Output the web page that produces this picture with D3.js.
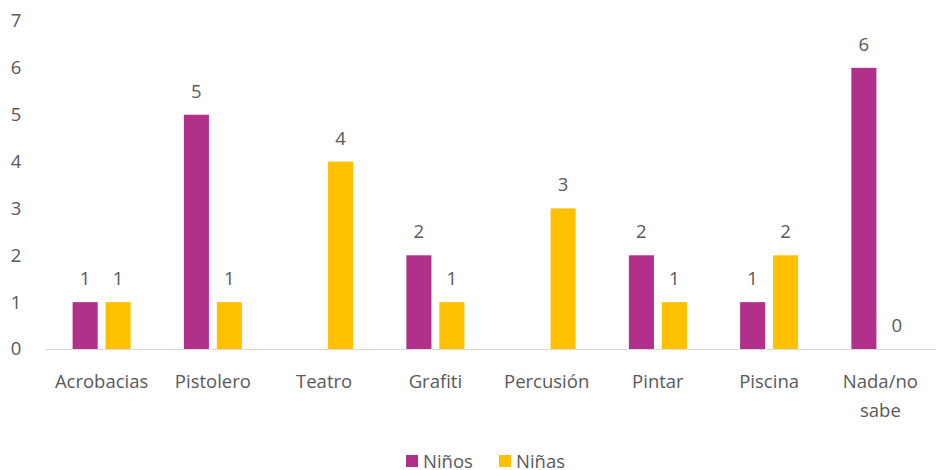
<!DOCTYPE html>
<html>
<head>
<meta charset="utf-8">
<script src="https://cdn.jsdelivr.net/npm/d3@7"></script>
<style>
  body { margin: 0; background: #fff; }
  text { font-family: "Open Sans", sans-serif; fill: #595959; }
</style>
</head>
<body>
<svg id="chart" width="936" height="470"></svg>
<script>
var categories = ["Acrobacias", "Pistolero", "Teatro", "Grafiti", "Percusión", "Pintar", "Piscina", "Nada/no sabe"];
var ninos = [1, 5, null, 2, null, 2, 1, 6];
var ninas = [1, 1, 4, 1, 3, 1, 2, 0];
var series = ["Niños", "Niñas"];
var colors = ["#B0308A", "#FFC000"];
var yTicks = [0, 1, 2, 3, 4, 5, 6, 7];

var svg = d3.select("#chart");
var plotLeft = 46, plotRight = 936, plotTop = 21, plotBottom = 349;
var fontSize = "18.5px";

var x = d3.scaleBand().domain(categories).range([plotLeft, plotRight]);
var y = d3.scaleLinear().domain([0, 7]).range([plotBottom, plotTop]);
var sub = d3.scaleBand().domain(series).range([0, 58]).paddingInner(0.24);

// y labels
svg.selectAll("text.y-label")
  .data(yTicks)
  .enter()
  .append("text")
  .attr("class", "y-label")
  .attr("x", 16)
  .attr("y", d => y(d))
  .attr("dy", "0.35em")
  .attr("text-anchor", "middle")
  .attr("font-size", fontSize)
  .text(d => d);

var rows = [];
categories.forEach((c, i) => {
  rows.push({cat: c, s: "Niños", v: ninos[i]});
  rows.push({cat: c, s: "Niñas", v: ninas[i]});
});

function barX(d) {
  return x(d.cat) + x.bandwidth() / 2 - 29 + sub(d.s);
}

svg.selectAll("rect.bar")
  .data(rows.filter(d => d.v !== null))
  .enter()
  .append("rect")
  .attr("class", "bar")
  .attr("x", d => barX(d))
  .attr("y", d => y(d.v))
  .attr("width", sub.bandwidth())
  .attr("height", d => plotBottom - y(d.v))
  .style("fill", d => colors[series.indexOf(d.s)]);

// axis line
svg.append("line")
  .attr("x1", plotLeft)
  .attr("x2", plotRight)
  .attr("y1", plotBottom + 0.5)
  .attr("y2", plotBottom + 0.5)
  .style("stroke", "#d9d9d9")
  .style("stroke-width", 1);

svg.selectAll("text.value")
  .data(rows.filter(d => d.v !== null))
  .enter()
  .append("text")
  .attr("class", "value")
  .attr("x", d => barX(d) + sub.bandwidth() / 2)
  .attr("y", d => y(d.v) - 17)
  .attr("text-anchor", "middle")
  .attr("font-size", fontSize)
  .text(d => d.v);

// category labels
svg.selectAll("text.x-label")
  .data(categories)
  .enter()
  .append("text")
  .attr("class", "x-label")
  .attr("text-anchor", "middle")
  .attr("font-size", fontSize)
  .each(function(d) {
    var lines = d === "Nada/no sabe" ? ["Nada/no", "sabe"] : [d];
    var t = d3.select(this);
    lines.forEach((l, j) => {
      t.append("tspan")
        .attr("x", x(d) + x.bandwidth() / 2)
        .attr("y", 388 + j * 29)
        .text(l);
    });
  });

// legend
var legend = svg.selectAll("g.legend")
  .data(series)
  .enter()
  .append("g")
  .attr("class", "legend")
  .attr("transform", (d, i) => "translate(" + (406 + i * 93) + ",455)");

legend.append("rect")
  .attr("width", 12)
  .attr("height", 12)
  .style("fill", (d, i) => colors[i]);

legend.append("text")
  .attr("x", 17)
  .attr("y", 12.5)
  .attr("font-size", fontSize)
  .text(d => d);
</script>
</body>
</html>
